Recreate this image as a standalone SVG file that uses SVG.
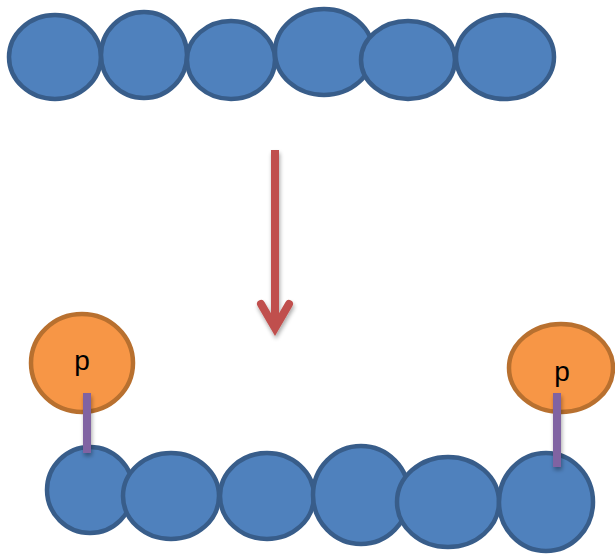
<svg xmlns="http://www.w3.org/2000/svg" width="615" height="555" viewBox="0 0 615 555">
<defs>
<style>
.b{fill:#4f81bd;stroke:#385d8a;stroke-width:4.5}
.o{fill:#f79646;stroke:#b8702f;stroke-width:4.5}
.bar{stroke:#8064a2;stroke-width:8;fill:none}
.lbl{font-family:"Liberation Sans",Arial,sans-serif;font-size:28px;fill:#000;text-anchor:middle}
.arr{stroke:#c0504d;stroke-width:8;fill:none}
</style>
<filter id="sh" x="-50%" y="-20%" width="200%" height="140%">
<feGaussianBlur in="SourceAlpha" stdDeviation="2"/>
<feOffset dx="1" dy="3" result="o"/>
<feComponentTransfer><feFuncA type="linear" slope="0.35"/></feComponentTransfer>
<feMerge><feMergeNode/><feMergeNode in="SourceGraphic"/></feMerge>
</filter>
</defs>
<rect width="615" height="555" fill="#fff"/>
<g id="top-chain">
<ellipse id="t1" class="b" cx="55" cy="57" rx="46" ry="42"/>
<ellipse id="t2" class="b" cx="144" cy="55" rx="43" ry="43"/>
<ellipse id="t3" class="b" cx="231" cy="60" rx="44" ry="39"/>
<ellipse id="t4" class="b" cx="324" cy="52" rx="49" ry="43"/>
<ellipse id="t5" class="b" cx="408" cy="60" rx="47" ry="39"/>
<ellipse id="t6" class="b" cx="505" cy="57" rx="49" ry="42"/>
</g>
<g id="arrow" filter="url(#sh)">
<line class="arr" x1="275" y1="150" x2="275" y2="328"/>
<polyline class="arr" points="261,304 275,328 289,304" stroke-linecap="round" stroke-linejoin="miter"/>
</g>
<g id="bottom-chain">
<ellipse id="b1" class="b" cx="90" cy="490" rx="43" ry="43"/>
<ellipse id="b2" class="b" cx="171" cy="496" rx="48" ry="43"/>
<ellipse id="b3" class="b" cx="267" cy="496" rx="47" ry="43"/>
<ellipse id="b4" class="b" cx="361" cy="495" rx="48" ry="49"/>
<ellipse id="b5" class="b" cx="448" cy="502" rx="51" ry="45"/>
<ellipse id="b6" class="b" cx="546" cy="502" rx="47" ry="49"/>
</g>
<g id="p-left">
<ellipse class="o" cx="82" cy="363" rx="51" ry="49"/>
<text class="lbl" x="82" y="370">p</text>
</g>
<g id="p-right">
<ellipse class="o" cx="561" cy="368" rx="52" ry="44"/>
<text class="lbl" x="562" y="381">p</text>
</g>
<g id="connectors" filter="url(#sh)">
<line class="bar" x1="87" y1="393" x2="87" y2="453"/>
<line class="bar" x1="557" y1="393" x2="557" y2="467"/>
</g>
</svg>
